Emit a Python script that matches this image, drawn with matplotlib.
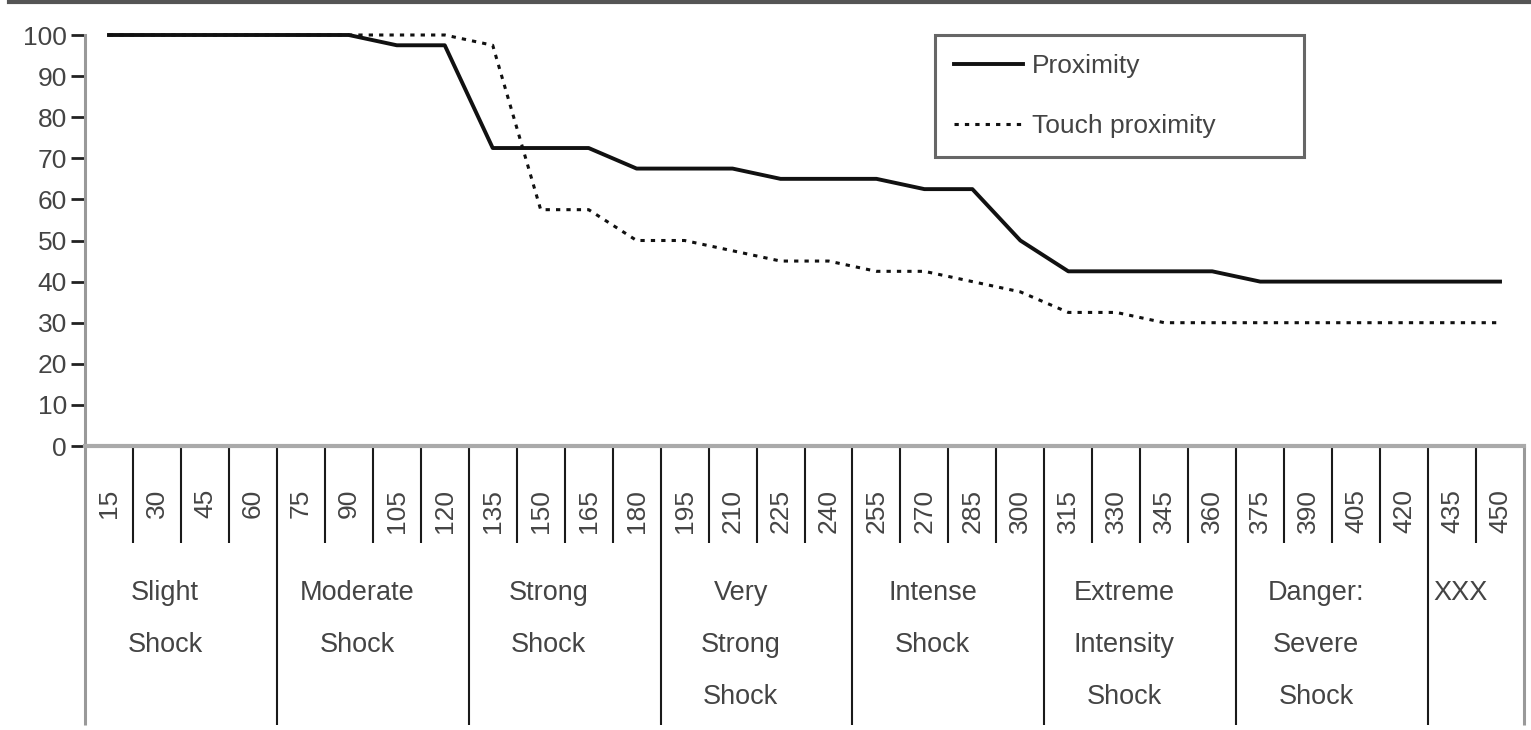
import matplotlib
matplotlib.use("Agg")
import matplotlib.pyplot as plt
import matplotlib.transforms as mtransforms
from matplotlib.lines import Line2D

plt.rcParams['font.family'] = ['Liberation Sans', 'DejaVu Sans']

# shock voltage levels (x categories)
shock_levels = ["15", "30", "45", "60", "75", "90", "105", "120", "135", "150",
                "165", "180", "195", "210", "225", "240", "255", "270", "285", "300",
                "315", "330", "345", "360", "375", "390", "405", "420", "435", "450"]

# percent of participants still obeying
proximity = [100, 100, 100, 100, 100, 100, 97.5, 97.5, 72.5, 72.5,
             72.5, 67.5, 67.5, 67.5, 65, 65, 65, 62.5, 62.5, 50,
             42.5, 42.5, 42.5, 42.5, 40, 40, 40, 40, 40, 40]
touch_proximity = [100, 100, 100, 100, 100, 100, 100, 100, 97.5, 57.5,
                   57.5, 50, 50, 47.5, 45, 45, 42.5, 42.5, 40, 37.5,
                   32.5, 32.5, 30, 30, 30, 30, 30, 30, 30, 30]

# shock groups shown under the axis
group_labels = ["Slight\nShock", "Moderate\nShock", "Strong\nShock", "Very\nStrong\nShock",
                "Intense\nShock", "Extreme\nIntensity\nShock", "Danger:\nSevere\nShock", "XXX"]
group_sizes = [4, 4, 4, 4, 4, 4, 4, 2]

W, H = 1531, 730
TXT = '#444444'


def fy(py):
    # pixel row -> figure fraction
    return 1 - py / H


fig = plt.figure(figsize=(W / 100, H / 100), dpi=100)
ax = fig.add_axes([85 / W, fy(446), (1524 - 85) / W, (446 - 35) / H])

xs = list(range(len(shock_levels)))
ax.plot(xs, proximity, color='#111111', lw=2.8, label='Proximity', clip_on=False)
ax.plot(xs, touch_proximity, color='#111111', lw=2.2, ls=(0, (1.4, 2.0)),
        label='Touch proximity', clip_on=False)

ax.set_xlim(-0.5, len(shock_levels) - 0.5)
ax.set_ylim(0, 100)
ax.set_yticks(range(0, 101, 10))
ax.tick_params(axis='y', length=10, width=2, color='#222222', pad=3,
               labelsize=19, labelcolor=TXT)
ax.set_xticks(xs)
ax.set_xticklabels(shock_levels, rotation=90, fontsize=19, color=TXT)
ax.tick_params(axis='x', length=0, pad=31)

for s in ['top', 'right']:
    ax.spines[s].set_visible(False)
ax.spines['left'].set_color('#999999')
ax.spines['left'].set_linewidth(2.2)
ax.spines['bottom'].set_color('#aaaaaa')
ax.spines['bottom'].set_linewidth(3)

# table-like grid below the x axis
trans = mtransforms.blended_transform_factory(ax.transData, fig.transFigure)
edges = [0]
for n in group_sizes:
    edges.append(edges[-1] + n)

for b in range(1, len(shock_levels)):
    bottom = 725 if b in edges else 543
    ax.plot([b - 0.5, b - 0.5], [fy(447), fy(bottom)], transform=trans,
            clip_on=False, color='#1a1a1a', lw=1.5, solid_capstyle='butt')
for b in [0, len(shock_levels)]:
    ax.plot([b - 0.5, b - 0.5], [fy(446), fy(725)], transform=trans,
            clip_on=False, color='#999999', lw=2.2, solid_capstyle='butt')

for i, lab in enumerate(group_labels):
    cx = (edges[i] + edges[i + 1]) / 2 - 0.5 - 0.33
    ax.text(cx, fy(580), lab, transform=trans, ha='center', va='top',
            fontsize=19.5, color=TXT, linespacing=2.3, multialignment='center')

leg = ax.legend(loc='upper left', bbox_to_anchor=(935 / W, fy(155), 369 / W, 120 / H),
                bbox_transform=fig.transFigure, mode='expand', borderaxespad=0,
                fontsize=19, handlelength=2.6, handletextpad=0.35, borderpad=0.72,
                labelspacing=1.37, fancybox=False, framealpha=1)
leg.get_frame().set_edgecolor('#666666')
leg.get_frame().set_linewidth(2.2)
for t in leg.get_texts():
    t.set_color(TXT)

# page rule at the very top
fig.add_artist(Line2D([9 / W, 1], [fy(2), fy(2)], transform=fig.transFigure,
                      color='#555555', lw=3))

fig.savefig("out.png", dpi=100)
